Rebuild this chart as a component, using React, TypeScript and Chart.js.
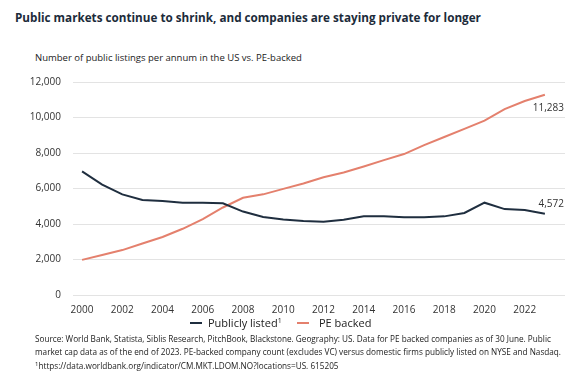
import React, { useEffect, useRef } from "react";
import { Chart, registerables } from "chart.js";

Chart.register(...registerables);

const years = [2000, 2001, 2002, 2003, 2004, 2005, 2006, 2007, 2008, 2009, 2010, 2011, 2012, 2013, 2014, 2015, 2016, 2017, 2018, 2019, 2020, 2021, 2022, 2023];
const publiclyListed = [6960, 6220, 5670, 5350, 5300, 5200, 5200, 5170, 4700, 4400, 4260, 4170, 4130, 4240, 4430, 4430, 4380, 4380, 4430, 4620, 5200, 4840, 4790, 4572];
const peBacked = [1980, 2250, 2530, 2900, 3270, 3730, 4280, 4930, 5480, 5670, 5980, 6280, 6630, 6900, 7240, 7600, 7940, 8440, 8900, 9360, 9820, 10470, 10930, 11283];
const xTickYears = [2000, 2002, 2004, 2006, 2008, 2010, 2012, 2014, 2016, 2018, 2020, 2022];
const yTicks = [0, 2000, 4000, 6000, 8000, 10000, 12000];

const NAVY = "#1f2e3f";
const SALMON = "#e4806d";
const FONT = "'Open Sans', 'Noto Sans', sans-serif";

const endLabels = {
  id: "endLabels",
  afterDatasetsDraw(chart: any) {
    const ctx = chart.ctx;
    ctx.save();
    ctx.font = `10px ${FONT}`;
    ctx.fillStyle = "#333";
    ctx.textAlign = "right";
    ctx.textBaseline = "middle";
    chart.data.datasets.forEach((ds: any, i: number) => {
      const meta = chart.getDatasetMeta(i);
      const pt = meta.data[meta.data.length - 1];
      const v = ds.data[ds.data.length - 1].y;
      const dy = i === 1 ? 13 : -10;
      ctx.fillText(v.toLocaleString("en-US"), chart.chartArea.right - 1, pt.y + dy);
    });
    ctx.restore();
  },
};

export default function App() {
  const ref = useRef<HTMLCanvasElement>(null);
  useEffect(() => {
    document.body.style.margin = "0";
    const chart = new Chart(ref.current!, {
      type: "line",
      data: {
        datasets: [
          {
            label: "Publicly listed¹",
            data: years.map((y, i) => ({ x: y, y: publiclyListed[i] })),
            borderColor: NAVY,
            borderWidth: 2,
            pointRadius: 0,
            tension: 0,
          },
          {
            label: "PE backed",
            data: years.map((y, i) => ({ x: y, y: peBacked[i] })),
            borderColor: SALMON,
            borderWidth: 2,
            pointRadius: 0,
            tension: 0,
          },
        ],
      },
      options: {
        animation: false,
        responsive: false,
        layout: { padding: { left: 0, right: 6, top: 3, bottom: 0 } },
        plugins: { legend: { display: false }, tooltip: { enabled: false } },
        scales: {
          x: {
            type: "linear",
            min: 1999.55,
            max: 2024.0,
            grid: { display: false },
            border: { display: false },
            afterBuildTicks: (axis: any) => {
              axis.ticks = xTickYears.map((v) => ({ value: v }));
            },
            ticks: {
              autoSkip: false,
              maxRotation: 0,
              font: { family: FONT, size: 10 },
              color: "#333",
              padding: 1,
              callback: (v: any) => String(v),
            },
          },
          y: {
            min: 0,
            max: 12000,
            afterBuildTicks: (axis: any) => {
              axis.ticks = yTicks.map((v) => ({ value: v }));
            },
            afterFit: (s: any) => {
              s.width = 73;
            },
            grid: { color: "#e3e3e3", lineWidth: 1, drawTicks: false },
            border: { display: false },
            ticks: {
              font: { family: FONT, size: 10 },
              color: "#333",
              padding: 12,
              callback: (v: any) => Number(v).toLocaleString("en-US"),
            },
          },
        },
      },
      plugins: [endLabels],
    });
    return () => chart.destroy();
  }, []);

  return (
    <div style={{ position: "absolute", left: 0, top: 0, width: 571, height: 385, background: "#fff", fontFamily: FONT, overflow: "hidden" }}>
      <div style={{ position: "absolute", left: 15, top: 9, fontSize: 11.7, fontWeight: 700, color: "#1c2b3a", whiteSpace: "nowrap" }}>
        Public markets continue to shrink, and companies are staying private for longer
      </div>
      <div style={{ position: "absolute", left: 35, top: 51, fontSize: 9.5, color: "#222", whiteSpace: "nowrap" }}>
        Number of public listings per annum in the US vs. PE-backed
      </div>
      <canvas ref={ref} width={571} height={253} style={{ position: "absolute", left: 0, top: 64, width: 571, height: 253 }} />
      <div style={{ position: "absolute", left: 190, top: 315, fontSize: 11, color: "#222", whiteSpace: "nowrap", display: "flex", alignItems: "center" }}>
        <span style={{ display: "inline-block", width: 12, height: 2, background: NAVY, marginRight: 6 }} />
        <span>Publicly listed<span style={{ fontSize: 7, verticalAlign: "4px" }}>1</span></span>
      </div>
      <div style={{ position: "absolute", left: 297, top: 315, fontSize: 11, color: "#222", whiteSpace: "nowrap", display: "flex", alignItems: "center" }}>
        <span style={{ display: "inline-block", width: 12, height: 2, background: SALMON, marginRight: 10 }} />
        <span>PE backed</span>
      </div>
      <div style={{ position: "absolute", left: 35, top: 333, fontSize: 8.2, lineHeight: "12.5px", color: "#222", whiteSpace: "nowrap" }}>
        Source: World Bank, Statista, Siblis Research, PitchBook, Blackstone. Geography: US. Data for PE backed companies as of 30 June. Public
        <br />market cap data as of the end of 2023. PE-backed company count (excludes VC) versus domestic firms publicly listed on NYSE and Nasdaq.
        <br /><span style={{ fontSize: 6, verticalAlign: "3px" }}>1</span>https://data.worldbank.org/indicator/CM.MKT.LDOM.NO?locations=US. 615205
      </div>
    </div>
  );
}
